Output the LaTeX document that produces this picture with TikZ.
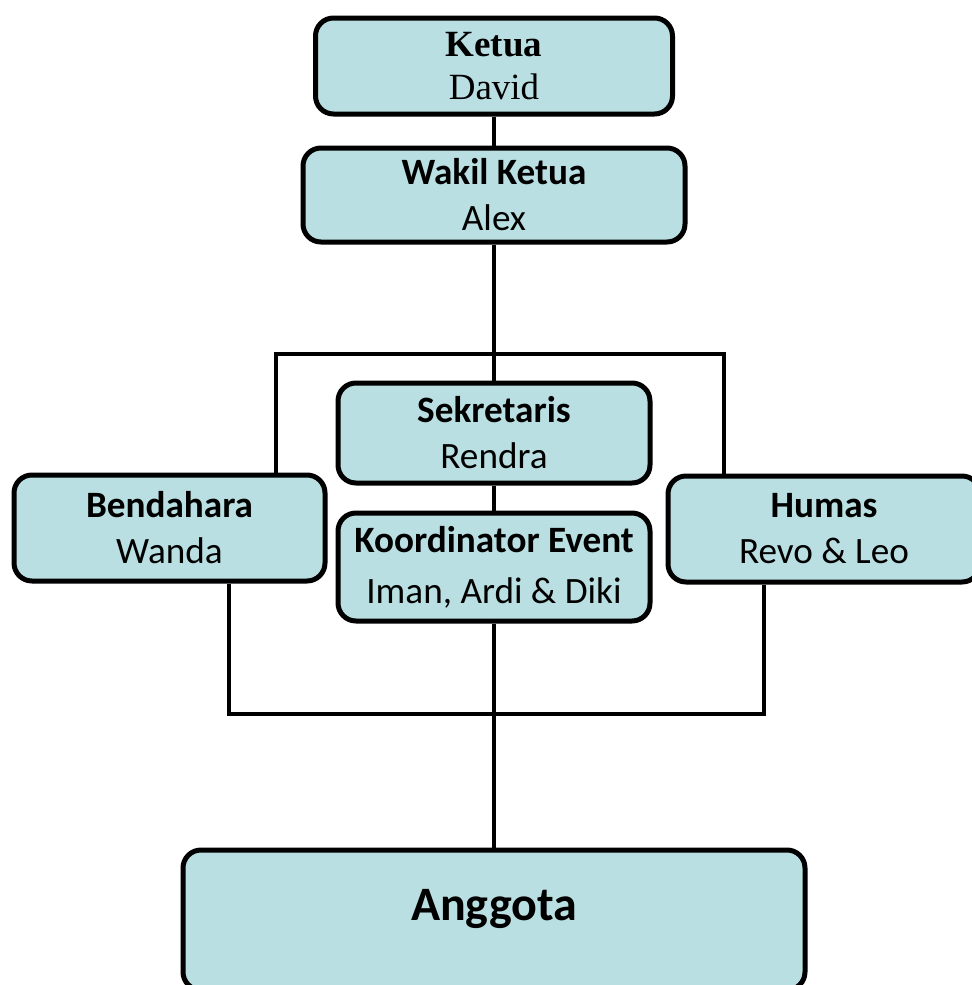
\documentclass[tikz,border=0pt]{standalone}
\usepackage{fontspec}
\setmainfont{Carlito}
\newfontfamily\ketuafont{Liberation Serif}
\usepackage{tikz}
\definecolor{kotak}{HTML}{B9DFE2}
\tikzstyle{jabatan} = [draw=black, line width=2.5pt, fill=kotak, rounded corners=9pt, align=center, font={\fontsize{18.6}{23}\selectfont}]
\tikzstyle{garis} = [line width=2.2pt]

\begin{document}
\begin{tikzpicture}[x=0.5pt,y=-0.5pt]
    \useasboundingbox (0,0) rectangle (971,985);
    \node[jabatan,font={\ketuafont\fontsize{18.5}{21.5}\selectfont},minimum width=178.5pt,minimum height=48pt](ketua) at (494,66){\textbf{Ketua}\\David};
    \node[jabatan,minimum width=191pt,minimum height=47pt](wakil) at (494,195){\textbf{Wakil Ketua}\\Alex};
    \node[jabatan,minimum width=156pt,minimum height=50pt](sekretaris) at (494,433){\textbf{Sekretaris}\\Rendra};
    \node[jabatan,minimum width=156pt,minimum height=54pt](koordinator) at (494,567){\textbf{Koordinator Event}\\[2.5pt]Iman, Ardi \& Diki};
    \node[jabatan,minimum width=155.5pt,minimum height=53pt](bendahara) at (169.5,528){\textbf{Bendahara}\\Wanda};
    \node[jabatan,minimum width=156pt,minimum height=53pt](humas) at (824,529){\textbf{Humas}\\Revo \& Leo};
    \node[jabatan,font={\bfseries\fontsize{24}{28}\selectfont},minimum width=311pt,minimum height=70pt](anggota) at (494,920){\raisebox{15pt}{Anggota}};
    \coordinate (kiriatas) at (276,354);
    \coordinate (kananatas) at (724,354);
    \coordinate (kiribawah) at (229,714);
    \coordinate (kananbawah) at (764,714);
    \draw[garis](ketua)--(wakil);
    \draw[garis](wakil)--(sekretaris);
    \draw[garis](sekretaris)--(koordinator);
    \draw[garis](kiriatas |- bendahara.north)--(kiriatas)--(kananatas)--(kananatas |- humas.north);
    \draw[garis](kiribawah |- bendahara.south)--(kiribawah)--(kananbawah)--(kananbawah |- humas.south);
    \draw[garis](koordinator)--(anggota);
  \end{tikzpicture}
\end{document}
